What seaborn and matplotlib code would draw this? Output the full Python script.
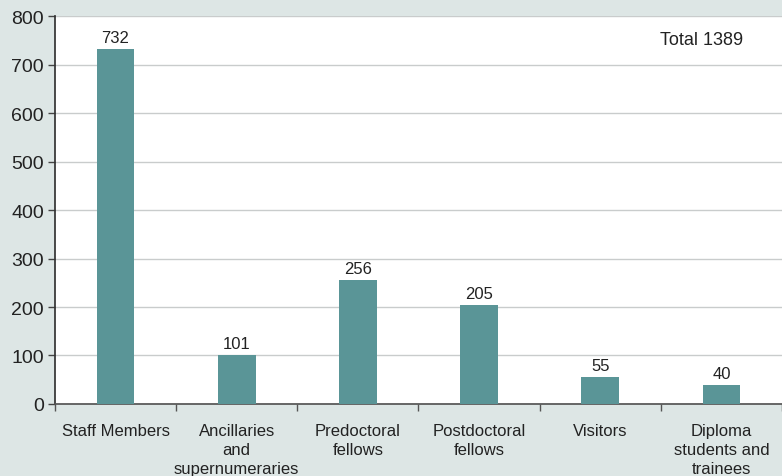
import matplotlib
matplotlib.use("Agg")

import matplotlib.pyplot as plt
import seaborn as sns
import numpy as np
import pandas as pd

categories = [
    "Staff Members",
    "Ancillaries\nand\nsupernumeraries",
    "Predoctoral\nfellows",
    "Postdoctoral\nfellows",
    "Visitors",
    "Diploma\nstudents and\ntrainees",
]
counts = [732, 101, 256, 205, 55, 40]
total_label = "Total 1389"
y_ticks = [0, 100, 200, 300, 400, 500, 600, 700, 800]

BG = "#dde6e5"
BAR = "#5a9597"
TXT = "#222222"

sns.set_theme(style="white")
plt.rcParams["font.family"] = ["Liberation Sans", "DejaVu Sans"]

df = pd.DataFrame({"cat": categories, "n": counts})

fig = plt.figure(figsize=(7.82, 4.77), dpi=100, facecolor=BG)
ax = fig.add_axes([0.0703, 0.151, 0.9297, 0.813])
ax.set_facecolor("white")

sns.barplot(data=df, x="cat", y="n", color=BAR, width=0.31,
            saturation=1, linewidth=0, ax=ax, zorder=3)

for i, v in enumerate(counts):
    ax.text(i, v + 8, str(v), ha="center", va="bottom", fontsize=12, color=TXT)

ax.set_ylim(0, 800)
ax.set_xlim(-0.5, 5.5)
ax.set_yticks(y_ticks)
ax.set_yticklabels([str(t) for t in y_ticks], fontsize=14, color=TXT)
ax.yaxis.grid(True, color="#c9cccc", lw=1, zorder=0)

ax.set_xticks(range(len(categories)))
ax.set_xticklabels(categories, fontsize=12, color=TXT, linespacing=1.3,
                   va="top")
ax.set_xticks(np.arange(-0.5, 5.6, 1), minor=True)
ax.tick_params(axis="x", which="major", length=0, pad=14, bottom=True)
ax.tick_params(axis="x", which="minor", length=5, width=1, color="#555555",
               direction="out", bottom=True)
ax.tick_params(axis="y", length=5, width=1, color="#444444", direction="out",
               pad=3, left=True)

ax.set_xlabel("")
ax.set_ylabel("")
for s in ["top", "right"]:
    ax.spines[s].set_visible(False)
ax.spines["left"].set_color("#333333")
ax.spines["bottom"].set_color("#555555")

ax.text(0.889, 0.941, total_label, transform=ax.transAxes, ha="center",
        va="center", fontsize=13, color=TXT)

fig.savefig("out.png", dpi=100, facecolor=BG)
